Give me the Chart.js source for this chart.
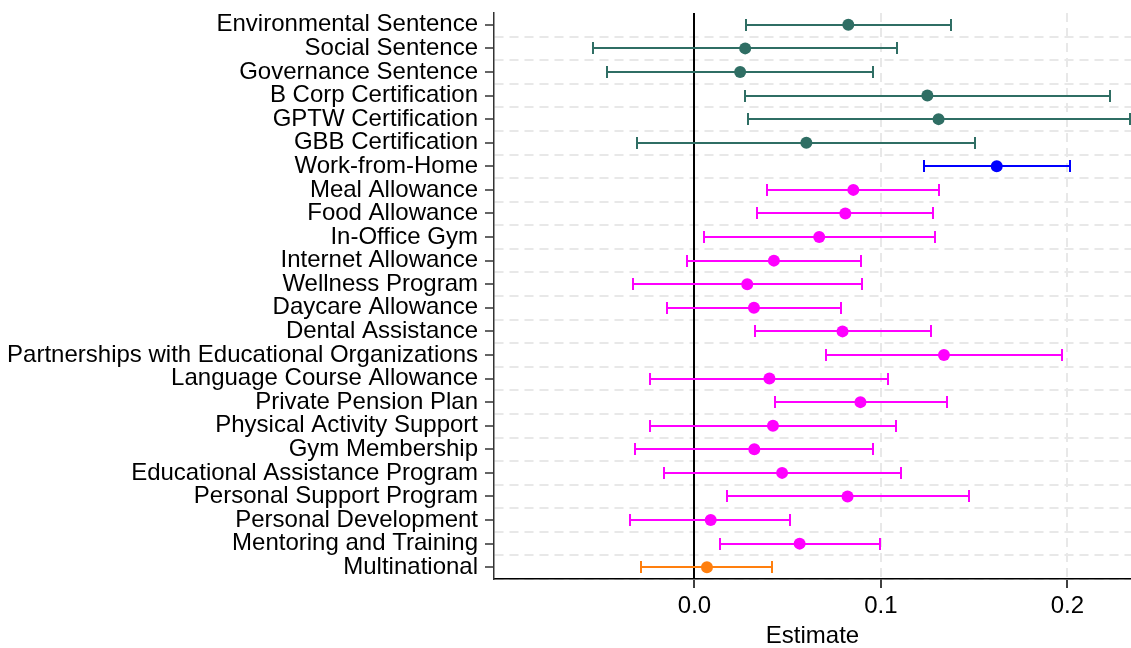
<!DOCTYPE html>
<html>
<head>
<meta charset="utf-8">
<title>Coefficient plot</title>
<script src="https://cdn.jsdelivr.net/npm/chart.js@4.4.0/dist/chart.umd.min.js"></script>
<style>
  html, body { margin: 0; padding: 0; background: #fff; }
  #wrap { width: 1131px; height: 648px; }
</style>
</head>
<body>
<div id="wrap"><canvas id="coefChart" width="1131" height="648"></canvas></div>
<script>
// terms, top to bottom
var terms = [
  'Environmental Sentence', 'Social Sentence', 'Governance Sentence',
  'B Corp Certification', 'GPTW Certification', 'GBB Certification',
  'Work-from-Home', 'Meal Allowance', 'Food Allowance', 'In-Office Gym',
  'Internet Allowance', 'Wellness Program', 'Daycare Allowance',
  'Dental Assistance', 'Partnerships with Educational Organizations',
  'Language Course Allowance', 'Private Pension Plan',
  'Physical Activity Support', 'Gym Membership',
  'Educational Assistance Program', 'Personal Support Program',
  'Personal Development', 'Mentoring and Training', 'Multinational'
];
var estimates = [
  0.0825, 0.0272, 0.0245, 0.1249, 0.1309, 0.0600,
  0.1621, 0.0852, 0.0809, 0.0669, 0.0426, 0.0283,
  0.0319, 0.0794, 0.1338, 0.0402, 0.0890, 0.0421,
  0.0321, 0.0470, 0.0821, 0.0087, 0.0564, 0.0067
];
var lower = [
  0.0277, -0.0542, -0.0470, 0.0270, 0.0286, -0.0306,
  0.1229, 0.0390, 0.0337, 0.0049, -0.0042, -0.0332,
  -0.0147, 0.0323, 0.0705, -0.0238, 0.0430, -0.0236,
  -0.0319, -0.0165, 0.0174, -0.0346, 0.0136, -0.0286
];
var upper = [
  0.1374, 0.1084, 0.0959, 0.2230, 0.2335, 0.1505,
  0.2016, 0.1311, 0.1280, 0.1291, 0.0892, 0.0901,
  0.0787, 0.1267, 0.1972, 0.1039, 0.1352, 0.1079,
  0.0959, 0.1106, 0.1472, 0.0515, 0.0995, 0.0417
];
var groups = [
  'esg', 'esg', 'esg', 'esg', 'esg', 'esg',
  'wfh', 'benefit', 'benefit', 'benefit', 'benefit', 'benefit',
  'benefit', 'benefit', 'benefit', 'benefit', 'benefit', 'benefit',
  'benefit', 'benefit', 'benefit', 'benefit', 'benefit', 'control'
];
var xTicks = [0, 0.1, 0.2];

var groupColors = { esg: '#2f6e64', wfh: '#0000ff', benefit: '#ff00ff', control: '#ff7f0e' };
var FONT = '"Liberation Sans", Arial, sans-serif';

// whiskers, caps, zero line and left tick marks
var errorBars = {
  id: 'errorBars',
  beforeDatasetsDraw: function (chart) {
    var ctx = chart.ctx, xs = chart.scales.x, ys = chart.scales.y, area = chart.chartArea;
    ctx.save();
    var x0 = Math.round(xs.getPixelForValue(0));
    ctx.strokeStyle = '#000';
    ctx.lineWidth = 2;
    ctx.beginPath();
    ctx.moveTo(x0, area.top);
    ctx.lineTo(x0, area.bottom);
    ctx.stroke();

    for (var i = 0; i < terms.length; i++) {
      var y = Math.round(ys.getPixelForValue(i));
      var xl = Math.round(xs.getPixelForValue(lower[i]));
      var xh = Math.round(xs.getPixelForValue(upper[i]));
      ctx.strokeStyle = groupColors[groups[i]];
      ctx.lineWidth = 2;
      ctx.beginPath();
      ctx.moveTo(xl, y); ctx.lineTo(xh, y);
      ctx.moveTo(xl, y - 6); ctx.lineTo(xl, y + 6);
      ctx.moveTo(xh, y - 6); ctx.lineTo(xh, y + 6);
      ctx.stroke();
    }
    ctx.restore();
  },
  afterDraw: function (chart) {
    var ctx = chart.ctx, ys = chart.scales.y, area = chart.chartArea;
    ctx.save();
    ctx.strokeStyle = '#333';
    ctx.lineWidth = 1.5;
    ctx.beginPath();
    for (var i = 0; i < terms.length; i++) {
      var y = Math.round(ys.getPixelForValue(i));
      ctx.moveTo(area.left - 9, y);
      ctx.lineTo(area.left, y);
    }
    ctx.stroke();
    ctx.restore();
  }
};

function noPad(scale) {
  scale.paddingTop = 0;
  scale.paddingBottom = 0;
  scale.paddingLeft = 0;
  scale.paddingRight = 0;
}

var ctx = document.getElementById('coefChart');
var coefChart = new Chart(ctx, {
  type: 'scatter',
  data: {
    datasets: [{
      data: terms.map(function (t, i) { return { x: estimates[i], y: t }; }),
      backgroundColor: groups.map(function (g) { return groupColors[g]; }),
      borderWidth: 0,
      pointRadius: 6,
      pointHoverRadius: 6
    }]
  },
  options: {
    responsive: false,
    animation: false,
    devicePixelRatio: 1,
    layout: { autoPadding: false, padding: { top: 13, right: 0, left: 0, bottom: 0 } },
    plugins: { legend: { display: false }, tooltip: { enabled: false } },
    scales: {
      x: {
        type: 'linear',
        min: -0.1075,
        max: 0.2341,
        afterBuildTicks: function (scale) {
          scale.ticks = xTicks.map(function (v) { return { value: v }; });
        },
        afterFit: function (scale) { scale.height = 69; noPad(scale); },
        ticks: {
          color: '#000',
          padding: 4,
          font: { family: FONT, size: 24 },
          callback: function (v) { return Number(v).toFixed(1); }
        },
        grid: {
          color: '#e8e8e8',
          lineWidth: 2,
          tickColor: '#000',
          tickWidth: 1.5,
          tickLength: 9
        },
        border: { display: true, color: '#000', width: 1.5, dash: [9, 6] },
        title: {
          display: true,
          text: 'Estimate',
          color: '#000',
          font: { family: FONT, size: 24, lineHeight: 1 },
          padding: { top: 2, bottom: 0 }
        }
      },
      y: {
        type: 'category',
        labels: terms,
        offset: true,
        afterFit: function (scale) { scale.width = 494; noPad(scale); },
        ticks: {
          autoSkip: false,
          color: '#000',
          padding: 16,
          font: { family: FONT, size: 24 }
        },
        grid: {
          offset: true,
          drawTicks: false,
          lineWidth: 2,
          color: function (c) { return c.index === 0 ? 'rgba(0,0,0,0)' : '#e8e8e8'; }
        },
        border: { display: true, color: '#333', width: 1.5, dash: [9, 6] }
      }
    }
  },
  plugins: [errorBars]
});
</script>
</body>
</html>
